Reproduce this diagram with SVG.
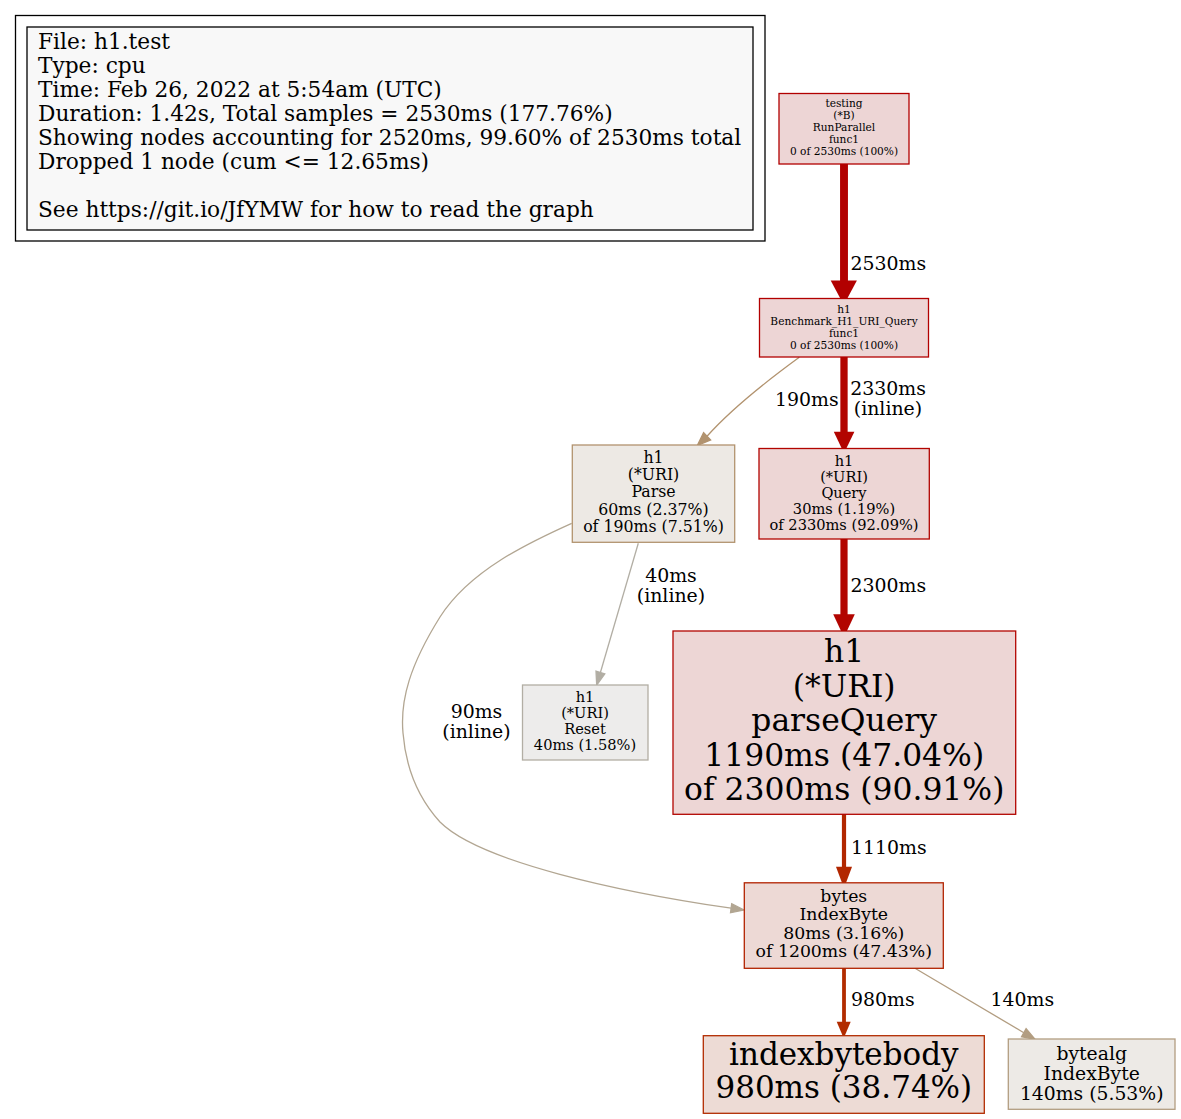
<svg xmlns="http://www.w3.org/2000/svg" width="1181" height="1119" viewBox="0 0 1181 1119">
<style>
text{font-family:"DejaVu Serif","Liberation Serif",serif;fill:#000}
.c{text-anchor:middle}
.lg{font-size:21.7px}
.el{font-size:18.9px}
.f8{font-size:10.6px}
.f11{font-size:14.6px}
.f12{font-size:15.75px}
.f13{font-size:17.3px}
.f14{font-size:18.8px}
.f23{font-size:31px}
.f24{font-size:31.4px}
rect{stroke-width:1.3}
.red{fill:#edd5d5;stroke:#b20000}
.red2{fill:#edd6d5;stroke:#b20400}
.red3{fill:#edd6d5;stroke:#b20500}
.ib{fill:#edd9d5;stroke:#b22300}
.ibb{fill:#eddbd5;stroke:#b22c00}
.par{fill:#ede9e4;stroke:#b2936f}
.res{fill:#edeceb;stroke:#b2aea4}
.ba{fill:#edeae6;stroke:#b29d81}
.e{fill:none}
</style>
<rect x="0" y="0" width="1181" height="1119" fill="#fff" stroke="none"/>
<g id="legend">
<rect x="15.5" y="15.5" width="749.5" height="225.5" fill="#fff" stroke="#000" stroke-width="1"/>
<rect x="27" y="27" width="726" height="203" fill="#f8f8f8" stroke="#000" stroke-width="1"/>
<text class="lg" x="38" y="49">File: h1.test</text>
<text class="lg" x="38" y="73">Type: cpu</text>
<text class="lg" x="38" y="97">Time: Feb 26, 2022 at 5:54am (UTC)</text>
<text class="lg" x="38" y="121">Duration: 1.42s, Total samples = 2530ms (177.76%)</text>
<text class="lg" x="38" y="145">Showing nodes accounting for 2520ms, 99.60% of 2530ms total</text>
<text class="lg" x="38" y="169">Dropped 1 node (cum &lt;= 12.65ms)</text>
<text class="lg" x="38" y="217">See https://git.io/JfYMW for how to read the graph</text>
</g>
<g id="edges">
<g id="e-testing-bench">
<path class="e" d="M844,164V281" stroke="#b20000" stroke-width="7.9"/>
<polygon points="830.7,280.5 856.9,280.5 843.8,305" fill="#b20000"/>
<text class="el" x="850.5" y="269.5">2530ms</text>
</g>
<g id="e-bench-query">
<path class="e" d="M844,357V432" stroke="#b20400" stroke-width="7.3"/>
<polygon points="833.8,431.7 854.4,431.7 844,453.3" fill="#b20400"/>
<text class="el c" x="888" y="394.5">2330ms</text>
<text class="el c" x="888" y="415">(inline)</text>
</g>
<g id="e-bench-parse">
<path class="e" d="M799.3,357.3C775,375 735,405 707,436.3" stroke="#b2936f" stroke-width="1.3"/>
<polygon points="710.6,439.9 703.6,432.6 697.3,445.5" fill="#b2936f" stroke="#b2936f" stroke-width="1.3"/>
<text class="el" x="775" y="405.5">190ms</text>
</g>
<g id="e-query-parsequery">
<path class="e" d="M844,539V615" stroke="#b20500" stroke-width="7.2"/>
<polygon points="833.2,614.3 854.8,614.3 844,637.3" fill="#b20500"/>
<text class="el" x="850.5" y="592">2300ms</text>
</g>
<g id="e-parse-reset">
<path class="e" d="M638.3,543.3L600.4,672.5" stroke="#b2aea4" stroke-width="1.3"/>
<polygon points="604.8,673.8 596,671.2 596.7,685" fill="#b2aea4" stroke="#b2aea4" stroke-width="1.3"/>
<text class="el c" x="671" y="581.5">40ms</text>
<text class="el c" x="671" y="602">(inline)</text>
</g>
<g id="e-parse-bytes">
<path class="e" d="M571.7,523.3C530,542 470,570 440,617C410,665 400,700 403,733C406,770 420,800 440,822C480,862 620,892 731.1,908.2" stroke="#b2a692" stroke-width="1.3"/>
<polygon points="730.5,912.8 731.7,903.7 744,910" fill="#b2a692" stroke="#b2a692" stroke-width="1.3"/>
<text class="el c" x="476.5" y="717.8">90ms</text>
<text class="el c" x="476.5" y="738.3">(inline)</text>
</g>
<g id="e-parsequery-bytes">
<path class="e" d="M844,814V867" stroke="#b22700" stroke-width="4.2"/>
<polygon points="836,866.7 852,866.7 844,888.3" fill="#b22700"/>
<text class="el" x="851" y="853.5">1110ms</text>
</g>
<g id="e-bytes-ibb">
<path class="e" d="M844,968V1022" stroke="#b22c00" stroke-width="3.8"/>
<polygon points="836.7,1021.7 850.7,1021.7 843.7,1038.3" fill="#b22c00"/>
<text class="el" x="851" y="1006">980ms</text>
</g>
<g id="e-bytes-bytealg">
<path class="e" d="M915,968.3L1023.8,1032.7" stroke="#b29d81" stroke-width="1.3"/>
<polygon points="1021.5,1036.7 1026.1,1028.7 1035,1039.3" fill="#b29d81" stroke="#b29d81" stroke-width="1.3"/>
<text class="el" x="990.5" y="1006">140ms</text>
</g>
</g>
<g id="node-testing">
<rect class="red" x="779" y="93.5" width="130" height="70.5"/>
<text class="f8 c" x="844" y="106.5">testing</text>
<text class="f8 c" x="844" y="118.5">(*B)</text>
<text class="f8 c" x="844" y="130.5">RunParallel</text>
<text class="f8 c" x="844" y="142.5">func1</text>
<text class="f8 c" x="844" y="154.5">0 of 2530ms (100%)</text>
</g>
<g id="node-bench">
<rect class="red" x="759.5" y="298.5" width="169" height="58.5"/>
<text class="f8 c" x="844" y="312.5">h1</text>
<text class="f8 c" x="844" y="324.5">Benchmark_H1_URI_Query</text>
<text class="f8 c" x="844" y="336.5">func1</text>
<text class="f8 c" x="844" y="348.5">0 of 2530ms (100%)</text>
</g>
<g id="node-parse">
<rect class="par" x="572.3" y="445" width="162.4" height="97.3"/>
<text class="f12 c" x="653.5" y="462.7">h1</text>
<text class="f12 c" x="653.5" y="480">(*URI)</text>
<text class="f12 c" x="653.5" y="497.2">Parse</text>
<text class="f12 c" x="653.5" y="514.5">60ms (2.37%)</text>
<text class="f12 c" x="653.5" y="531.7">of 190ms (7.51%)</text>
</g>
<g id="node-query">
<rect class="red2" x="759" y="448.5" width="170.3" height="90.5"/>
<text class="f11 c" x="844" y="465.7">h1</text>
<text class="f11 c" x="844" y="481.8">(*URI)</text>
<text class="f11 c" x="844" y="497.9">Query</text>
<text class="f11 c" x="844" y="514">30ms (1.19%)</text>
<text class="f11 c" x="844" y="530.1">of 2330ms (92.09%)</text>
</g>
<g id="node-reset">
<rect class="res" x="522.5" y="685" width="125.5" height="75"/>
<text class="f11 c" x="585" y="701.9">h1</text>
<text class="f11 c" x="585" y="718">(*URI)</text>
<text class="f11 c" x="585" y="734.1">Reset</text>
<text class="f11 c" x="585" y="750.2">40ms (1.58%)</text>
</g>
<g id="node-parsequery">
<rect class="red3" x="673" y="631" width="342.7" height="183.3"/>
<text class="f24 c" x="844.2" y="662">h1</text>
<text class="f24 c" x="844.2" y="696.6">(*URI)</text>
<text class="f24 c" x="844.2" y="731.2">parseQuery</text>
<text class="f24 c" x="844.2" y="765.8">1190ms (47.04%)</text>
<text class="f24 c" x="844.2" y="800.4">of 2300ms (90.91%)</text>
</g>
<g id="node-bytes">
<rect class="ib" x="744.3" y="882.8" width="199" height="85.5"/>
<text class="f13 c" x="843.8" y="901.7">bytes</text>
<text class="f13 c" x="843.8" y="920.2">IndexByte</text>
<text class="f13 c" x="843.8" y="938.7">80ms (3.16%)</text>
<text class="f13 c" x="843.8" y="957.2">of 1200ms (47.43%)</text>
</g>
<g id="node-ibb">
<rect class="ibb" x="703.3" y="1035.7" width="281" height="77.6"/>
<text class="f23 c" x="843.8" y="1065">indexbytebody</text>
<text class="f23 c" x="843.8" y="1098.3">980ms (38.74%)</text>
</g>
<g id="node-bytealg">
<rect class="ba" x="1008.3" y="1039" width="166.7" height="70.3"/>
<text class="f14 c" x="1091.7" y="1060">bytealg</text>
<text class="f14 c" x="1091.7" y="1080">IndexByte</text>
<text class="f14 c" x="1091.7" y="1100">140ms (5.53%)</text>
</g>
</svg>
